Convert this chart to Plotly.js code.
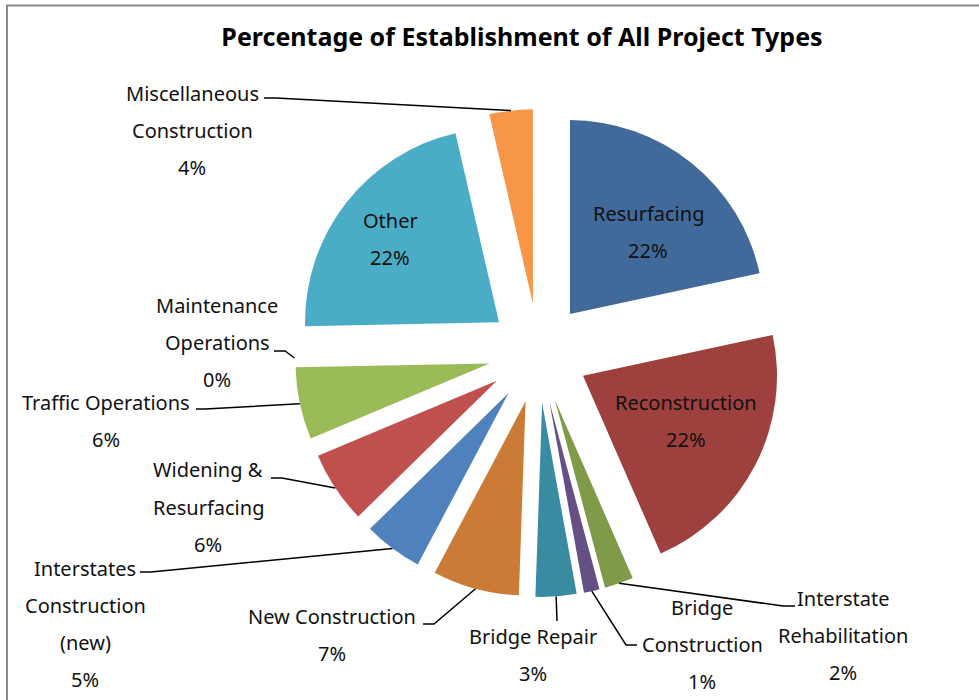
<!DOCTYPE html>
<html><head><meta charset="utf-8">
<script src="https://cdn.plot.ly/plotly-3.0.1.min.js"></script>
<style>html,body{margin:0;padding:0;background:#fff;}#chart{width:979px;height:700px;}</style>
</head><body><div id="chart"></div>
<script>
// ---- data ----
const categories = ["Resurfacing", "Reconstruction", "Interstate Rehabilitation", "Bridge Construction",
  "Bridge Repair", "New Construction", "Interstates Construction (new)", "Widening & Resurfacing",
  "Traffic Operations", "Maintenance Operations", "Other", "Miscellaneous Construction"];
const values = [21.6, 21.8, 2.4, 1.3, 3.4, 7.2, 4.9, 6.0, 6.0, 0, 21.7, 3.6];
const labelLines = [["Resurfacing"], ["Reconstruction"], ["Interstate", "Rehabilitation"], ["Bridge", "Construction"],
  ["Bridge Repair"], ["New Construction"], ["Interstates", "Construction", "(new)"], ["Widening &", "Resurfacing"],
  ["Traffic Operations"], ["Maintenance", "Operations"], ["Other"], ["Miscellaneous", "Construction"]];
const colors = ["#416a9b", "#9d403e", "#7f9a48", "#664f85", "#388ba1", "#cc7b36",
  "#4f81bd", "#c0504d", "#9bbb59", "#8064a2", "#4bacc6", "#f79646"];
const chartTitle = "Percentage of Establishment of All Project Types";

// ---- label placement (pixels): centre x, first line y ----
const labelPos = [[648, 213], [686, 402], [843, 598], [702, 607], [533, 636], [332, 616],
  [85, 568], [208, 470], [106, 402], [217, 305], [390, 220], [192, 93]];
const lineGap = 37.3;
// leader lines: points from the label toward the slice (slice end computed from pie geometry)
const leaders = [null, null, [[795, 606], [783, 606]], [[637, 645], [626, 645]], [[557, 621]], [[423, 624], [434, 624]],
  [[140, 572], [151, 572]], [[271, 478], [282, 478]], [[196, 409], [205, 409]], [[274, 351], [285, 351]], null,
  [[264, 98], [276, 98]]];

const W = 979, H = 700;
const total = values.reduce((a, b) => a + b, 0);
const pcts = values.map(v => Math.round(v / total * 100) + "%");
const px = x => x / W, py = y => 1 - y / H;

const font = "Noto Sans, Open Sans, DejaVu Sans, sans-serif";
const annotations = [];
categories.forEach((c, i) => {
  const lines = labelLines[i].concat([pcts[i]]);
  lines.forEach((t, k) => {
    annotations.push({
      xref: "paper", yref: "paper", x: px(labelPos[i][0]), y: py(labelPos[i][1] + k * lineGap),
      xanchor: "center", yanchor: "middle", showarrow: false, text: t,
      font: {family: font, size: 20, color: "#111"}
    });
  });
});

const trace = {
  type: "pie", labels: categories, values: values, sort: false, direction: "clockwise", rotation: 0,
  marker: {colors: colors, line: {width: 0}}, pull: values.map(() => 0.258),
  textinfo: "none", hoverinfo: "label+percent", showlegend: false,
  domain: {x: [0.3008, 0.7993], y: [0.1471, 0.8443]}
};

const layout = {
  width: W, height: H, margin: {l: 0, r: 0, t: 0, b: 0},
  paper_bgcolor: "#ffffff", plot_bgcolor: "#ffffff", showlegend: false,
  title: {text: "<b>" + chartTitle + "</b>", x: 522 / W, xanchor: "center", y: py(37), yanchor: "middle",
    xref: "paper", yref: "paper", font: {family: font, size: 25, color: "#000"}},
  annotations: annotations,
  shapes: [{type: "rect", xref: "paper", yref: "paper", x0: px(7), y0: -0.05, x1: 1.05, y1: py(5.5),
    line: {color: "#8a8a8a", width: 2}}]
};

const gd = document.getElementById("chart");
Plotly.newPlot(gd, [trace], layout, {displayModeBar: false, staticPlot: true}).then(() => {
  const cd0 = gd.calcdata[0][0];
  const cx = cd0.cx, cy = cd0.cy, r = cd0.r;
  let cum = 0;
  const shapes = layout.shapes.slice();
  values.forEach((v, i) => {
    const mid = (cum + v / 2) / total * 2 * Math.PI;
    cum += v;
    if (!leaders[i]) return;
    const dist = r * (1 + trace.pull[i]);
    const ax = cx + dist * Math.sin(mid), ay = cy - dist * Math.cos(mid);
    const pts = leaders[i].concat([[ax, ay]]);
    const path = pts.map((p, k) => (k ? "L" : "M") + px(p[0]).toFixed(5) + "," + py(p[1]).toFixed(5)).join(" ");
    shapes.push({type: "path", xref: "paper", yref: "paper", path: path, line: {color: "#000", width: 1.5}});
  });
  return Plotly.relayout(gd, {shapes: shapes});
});
</script>
</body></html>
